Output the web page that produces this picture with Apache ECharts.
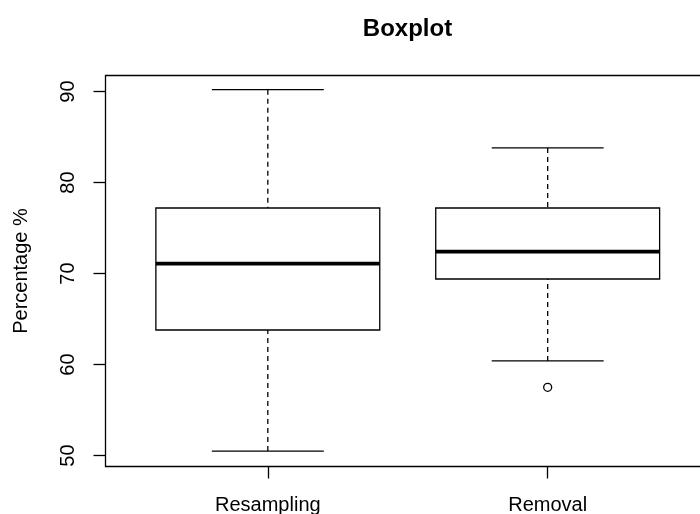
<!DOCTYPE html>
<html>
<head>
<meta charset="utf-8">
<title>Boxplot</title>
<script src="https://cdn.jsdelivr.net/npm/echarts@6/dist/echarts.min.js"></script>
<style>
  html, body { margin: 0; padding: 0; background: #fff; }
  #chart { width: 700px; height: 514px; }
</style>
</head>
<body>
<div id="chart"></div>
<script>
// Groups and their five-number summaries (percent)
const categories = ['Resampling', 'Removal'];
const whiskerLow = [50.5, 60.4];
const lowerQuartile = [63.8, 69.4];
const median = [71.1, 72.4];
const upperQuartile = [77.2, 77.2];
const whiskerHigh = [90.2, 83.8];
// Points beyond the whiskers, one list per group
const outliers = [[], [57.5]];
// Y axis tick values
const yTicks = [50, 60, 70, 80, 90];

const FONT = '"Liberation Sans", Arial, Helvetica, sans-serif';
const INK = '#000';
const LW = 1.3;
const BOX_HALF = 0.4;   // half box width in axis units
const CAP_RATIO = 0.5;  // staple width relative to box width

const boxData = categories.map((c, i) => [
  i + 1, whiskerLow[i], lowerQuartile[i], median[i], upperQuartile[i], whiskerHigh[i]
]);
const outlierData = [];
outliers.forEach((vals, i) => vals.forEach(v => outlierData.push([i + 1, v])));

function renderBox(params, api) {
  const x = api.value(0);
  const lo = api.coord([x, api.value(1)]);
  const q1 = api.coord([x, api.value(2)]);
  const md = api.coord([x, api.value(3)]);
  const q3 = api.coord([x, api.value(4)]);
  const hi = api.coord([x, api.value(5)]);
  const cx = md[0];
  const half = api.size([BOX_HALF, 0])[0];
  const cap = half * CAP_RATIO;
  const solid = { stroke: INK, lineWidth: LW, fill: null };
  const dashed = { stroke: INK, lineWidth: LW, lineDash: [5, 4], fill: null };
  return {
    type: 'group',
    children: [
      { type: 'line', shape: { x1: cx, y1: lo[1], x2: cx, y2: q1[1] }, style: dashed },
      { type: 'line', shape: { x1: cx, y1: hi[1], x2: cx, y2: q3[1] }, style: dashed },
      { type: 'line', shape: { x1: cx - cap, y1: lo[1], x2: cx + cap, y2: lo[1] }, style: solid },
      { type: 'line', shape: { x1: cx - cap, y1: hi[1], x2: cx + cap, y2: hi[1] }, style: solid },
      { type: 'rect', shape: { x: cx - half, y: q3[1], width: 2 * half, height: q1[1] - q3[1] },
        style: { stroke: INK, lineWidth: LW, fill: '#fff' } },
      { type: 'line', shape: { x1: cx - half, y1: md[1], x2: cx + half, y2: md[1] },
        style: { stroke: INK, lineWidth: 3.8 } }
    ]
  };
}

// Outliers drawn as open circles
function renderOutlier(params, api) {
  const p = api.coord([api.value(0), api.value(1)]);
  return {
    type: 'circle',
    shape: { cx: p[0], cy: p[1], r: 4 },
    style: { stroke: INK, lineWidth: LW, fill: '#fff' }
  };
}

const chart = echarts.init(document.getElementById('chart'), null, { renderer: 'canvas' });
chart.setOption({
  backgroundColor: '#fff',
  animation: false,
  title: {
    text: 'Boxplot',
    left: 407.5,
    top: 17,
    padding: 0,
    textAlign: 'center',
    textStyle: { fontFamily: FONT, fontSize: 24, fontWeight: 'bold', color: INK }
  },
  grid: {
    left: 105.5,
    top: 75.5,
    width: 604.5,
    height: 391,
    show: true,
    borderColor: INK,
    borderWidth: LW,
    backgroundColor: 'transparent',
    outerBoundsMode: 'none',
    containLabel: false
  },
  xAxis: {
    type: 'value',
    min: 0.42,
    max: 2.58,
    splitLine: { show: false },
    axisLine: { show: false },
    axisTick: { show: true, length: 12, customValues: [1, 2], lineStyle: { color: INK, width: LW } },
    axisLabel: {
      show: true,
      customValues: [1, 2],
      margin: 29,
      formatter: v => categories[Math.round(v) - 1] || '',
      fontFamily: FONT, fontSize: 20, color: INK
    }
  },
  yAxis: {
    type: 'value',
    min: 48.8,
    max: 91.76,
    name: 'Percentage %',
    nameLocation: 'middle',
    nameRotate: 90,
    nameGap: 74,
    nameTextStyle: { fontFamily: FONT, fontSize: 20, color: INK },
    splitLine: { show: false },
    axisLine: { show: false },
    axisTick: { show: true, length: 12, customValues: yTicks, lineStyle: { color: INK, width: LW } },
    axisLabel: {
      show: true,
      customValues: yTicks,
      rotate: 90,
      margin: 27,
      fontFamily: FONT, fontSize: 20, color: INK
    }
  },
  series: [
    {
      type: 'custom',
      renderItem: renderBox,
      data: boxData,
      encode: { x: 0, y: [1, 2, 3, 4, 5] },
      silent: true,
      z: 2
    },
    {
      type: 'custom',
      renderItem: renderOutlier,
      data: outlierData,
      encode: { x: 0, y: 1 },
      silent: true,
      z: 3
    }
  ]
});
</script>
</body>
</html>
